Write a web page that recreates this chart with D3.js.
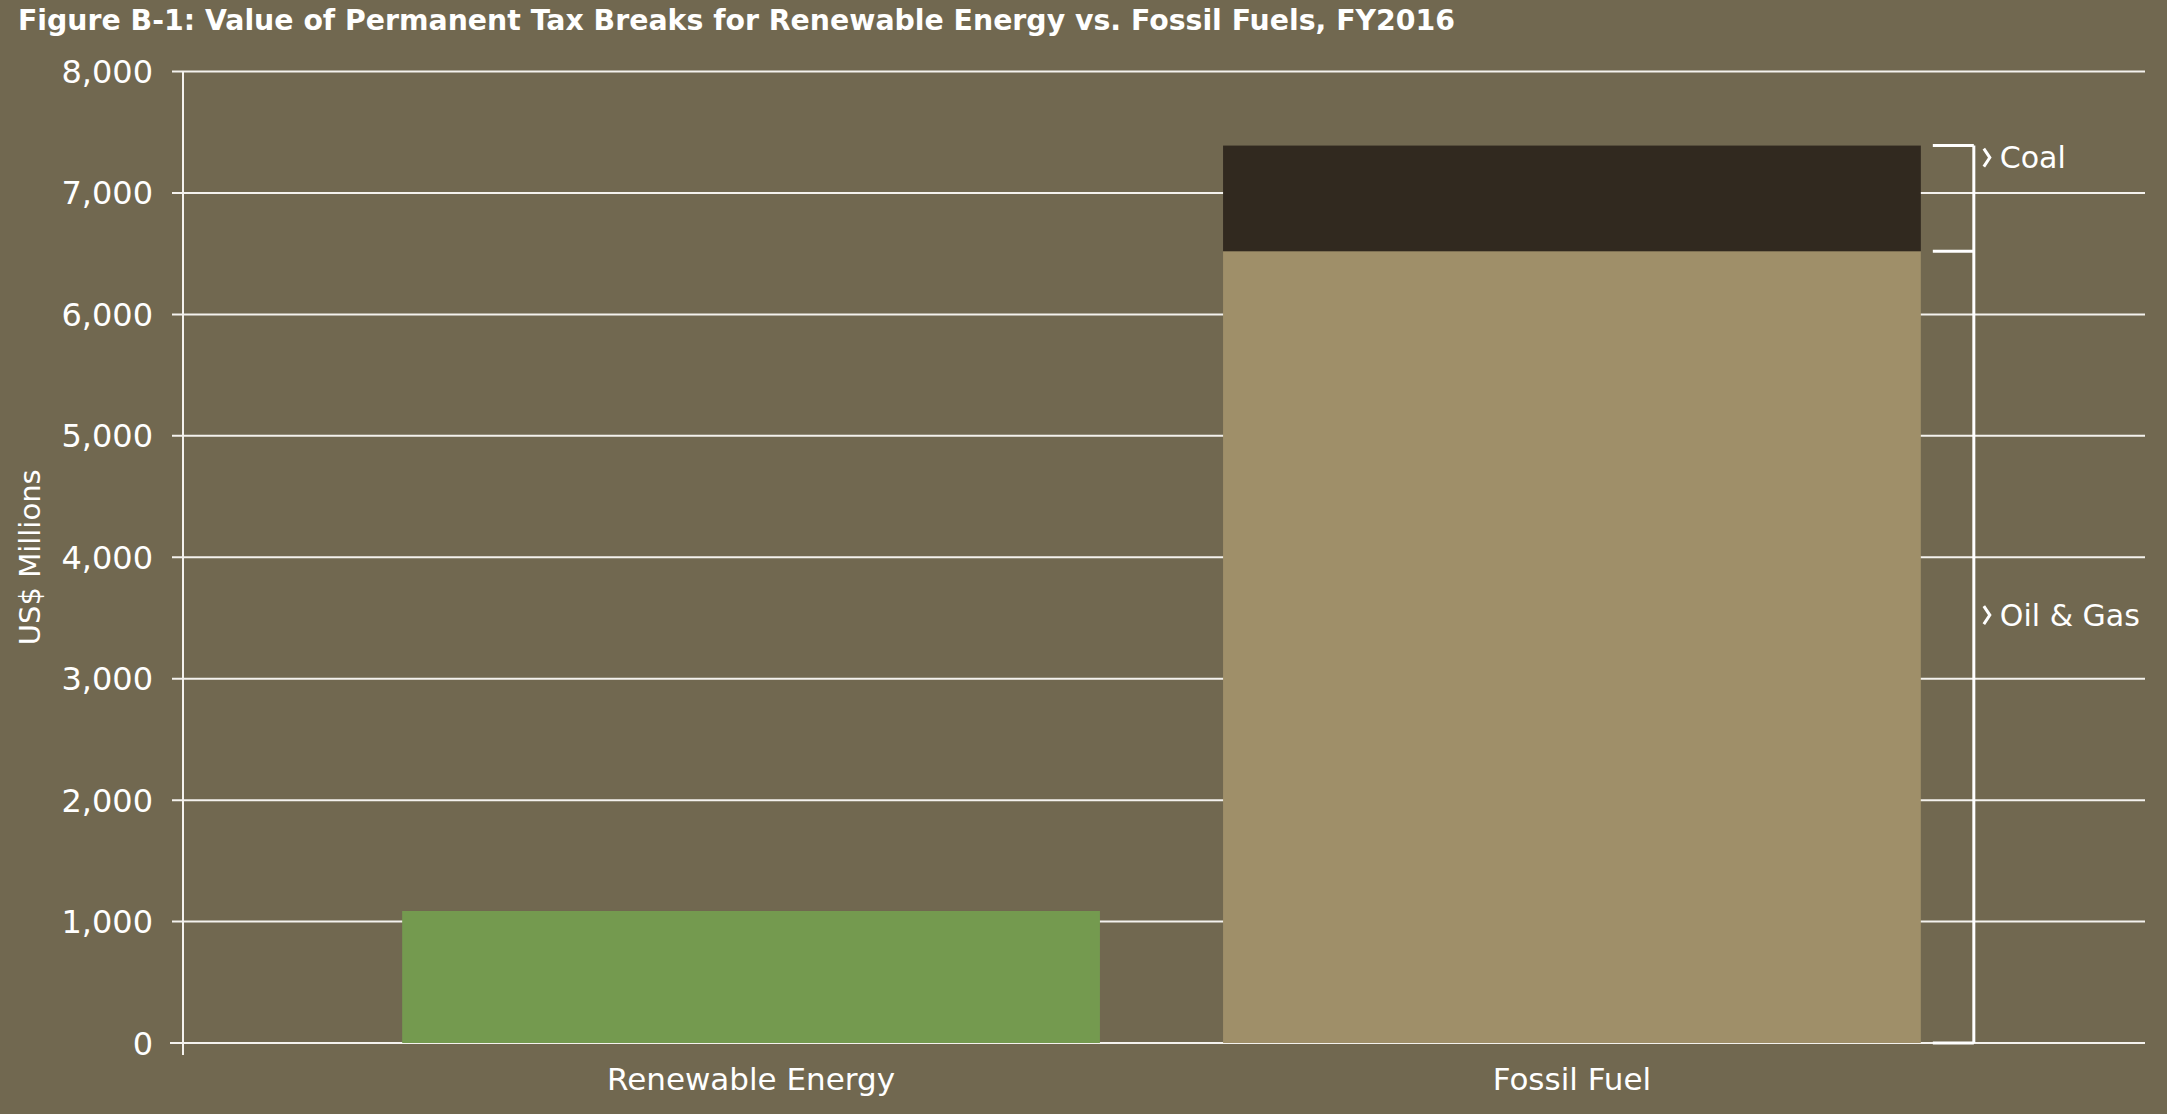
<!DOCTYPE html>
<html>
<head>
<meta charset="utf-8">
<script src="https://cdn.jsdelivr.net/npm/d3@7"></script>
<style>
  html, body { margin: 0; padding: 0; background: #716850; }
  svg { display: block; }
  text { fill: #ffffff; font-family: "DejaVu Sans", sans-serif; }
</style>
</head>
<body>
<svg id="chart"></svg>
<script>
// data (US$ millions)
const categories = ['Renewable Energy', 'Fossil Fuel'];
const renewable = [1087, 0];
const oilGas = [0, 6520];
const coal = [0, 870];
const yTicks = [0, 1000, 2000, 3000, 4000, 5000, 6000, 7000, 8000];
const segmentNames = ['Coal', 'Oil & Gas'];

const width = 2167, height = 1114;
const margin = {top: 71.5, right: 22, bottom: 71, left: 183};

const svg = d3.select('#chart')
    .attr('width', width)
    .attr('height', height);

const y = d3.scaleLinear()
    .domain([0, 8000])
    .range([height - margin.bottom, margin.top]);

const x = d3.scaleBand()
    .domain(categories)
    .range([margin.left, 2140])
    .paddingInner(0.15)
    .paddingOuter(0.267);

// title
svg.append('text')
    .attr('x', 18)
    .attr('y', 30)
    .attr('font-size', 29)
    .attr('font-weight', 700)
    .attr('textLength', 1437)
    .attr('lengthAdjust', 'spacingAndGlyphs')
    .text('Figure B-1: Value of Permanent Tax Breaks for Renewable Energy vs. Fossil Fuels, FY2016');

// gridlines
svg.append('g')
    .selectAll('line')
    .data(yTicks)
    .enter().append('line')
    .attr('x1', d => d === 0 ? margin.left - 13 : margin.left - 11)
    .attr('x2', width - 22)
    .attr('y1', d => y(d))
    .attr('y2', d => y(d))
    .attr('stroke', '#f4f2ee')
    .attr('stroke-width', 2);

// y axis line
svg.append('line')
    .attr('x1', margin.left)
    .attr('x2', margin.left)
    .attr('y1', y(8000))
    .attr('y2', y(0) + 12)
    .attr('stroke', '#f4f2ee')
    .attr('stroke-width', 2);

// tick labels
svg.append('g')
    .selectAll('text')
    .data(yTicks)
    .enter().append('text')
    .attr('x', 153)
    .attr('y', d => y(d))
    .attr('dy', '0.36em')
    .attr('text-anchor', 'end')
    .attr('font-size', 32)
    .text(d => d3.format(',')(d));

// y axis title
svg.append('text')
    .attr('transform', `translate(40,${(y(0) + y(8000)) / 2}) rotate(-90)`)
    .attr('text-anchor', 'middle')
    .attr('font-size', 29)
    .text('US$ Millions');

// bars
const bars = svg.append('g');
bars.selectAll('.renew')
    .data(categories.map((c, i) => ({c, v: renewable[i]})).filter(d => d.v > 0))
    .enter().append('rect')
    .attr('class', 'renew')
    .attr('x', d => x(d.c))
    .attr('width', x.bandwidth())
    .attr('y', d => y(d.v))
    .attr('height', d => y(0) - y(d.v))
    .attr('fill', '#749a4f');

bars.selectAll('.oil')
    .data(categories.map((c, i) => ({c, v: oilGas[i]})).filter(d => d.v > 0))
    .enter().append('rect')
    .attr('class', 'oil')
    .attr('x', d => x(d.c))
    .attr('width', x.bandwidth())
    .attr('y', d => y(d.v))
    .attr('height', d => y(0) - y(d.v))
    .attr('fill', '#9f8f69');

bars.selectAll('.coal')
    .data(categories.map((c, i) => ({c, base: oilGas[i], v: coal[i]})).filter(d => d.v > 0))
    .enter().append('rect')
    .attr('class', 'coal')
    .attr('x', d => x(d.c))
    .attr('width', x.bandwidth())
    .attr('y', d => y(d.base + d.v))
    .attr('height', d => y(d.base) - y(d.base + d.v))
    .attr('fill', '#31291f');

// category labels
svg.append('g')
    .selectAll('text')
    .data(categories)
    .enter().append('text')
    .attr('x', d => x(d) + x.bandwidth() / 2)
    .attr('y', y(0) + 47)
    .attr('text-anchor', 'middle')
    .attr('font-size', 31)
    .text(d => d);

// bracket for the fossil fuel segments
const fx = x('Fossil Fuel') + x.bandwidth();
const bx = fx + 53;
const topV = oilGas[1] + coal[1];
const bracket = svg.append('g')
    .attr('stroke', '#ffffff')
    .attr('stroke-width', 3)
    .attr('fill', 'none');
bracket.append('line')
    .attr('x1', bx).attr('x2', bx)
    .attr('y1', y(topV)).attr('y2', y(0));
[topV, oilGas[1], 0].forEach(v => {
    bracket.append('line')
        .attr('x1', fx + 12).attr('x2', bx)
        .attr('y1', y(v)).attr('y2', y(v));
});

// segment labels: chevron + name
const labelY = [y(topV) + 12, y(oilGas[1] / 2) - 32];
const seg = svg.append('g')
    .selectAll('g')
    .data(segmentNames)
    .enter().append('g')
    .attr('transform', (d, i) => `translate(${bx + 10},${labelY[i]})`);
seg.append('path')
    .attr('d', 'M0,-9 L6,0 L0,9')
    .attr('stroke', '#ffffff')
    .attr('stroke-width', 3)
    .attr('fill', 'none');
seg.append('text')
    .attr('x', 16)
    .attr('dy', '0.36em')
    .attr('font-size', 30)
    .text(d => d);
</script>
</body>
</html>
